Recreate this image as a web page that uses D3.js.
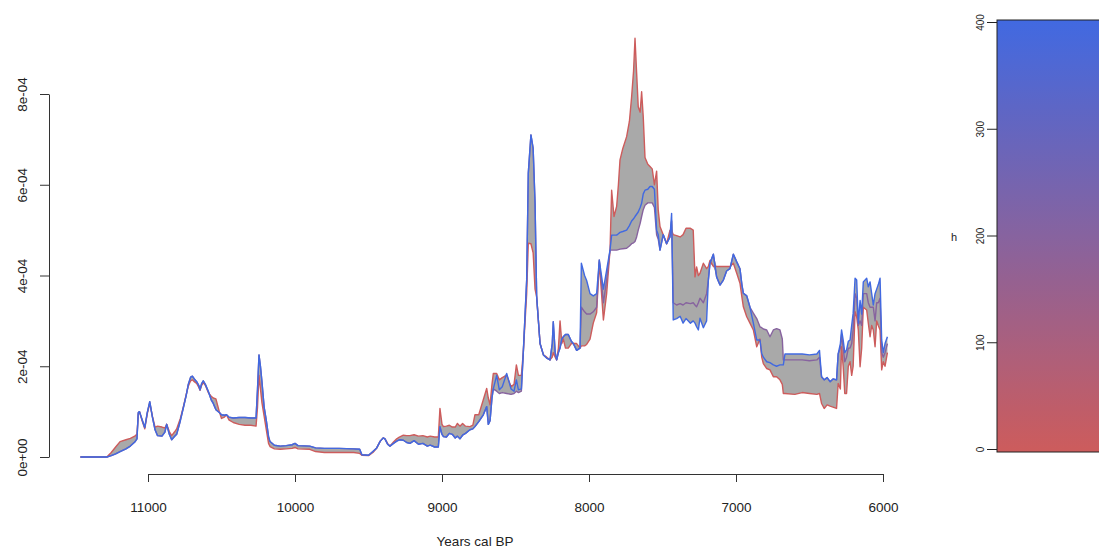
<!DOCTYPE html>
<html>
<head>
<meta charset="utf-8">
<script src="https://cdn.jsdelivr.net/npm/d3@7"></script>
<style>
  html, body { margin: 0; padding: 0; background: #fff; }
  svg { display: block; font-family: "Liberation Sans", Arial, sans-serif; }
</style>
</head>
<body>
<svg id="chart" width="1099" height="548"></svg>
<script>
// Summed probability density for three values of the smoothing parameter h
// (0, 200, 400). Values are in units of 1e-4 and converted below.
const years = [
  11460, 11280, 11250, 11220, 11190, 11150, 11120, 11090, 11075, 11066,
  11058, 11040, 11022, 11005, 10988, 10970, 10952, 10935, 10905, 10885,
  10873, 10855, 10839, 10820, 10805, 10780, 10760, 10740, 10726, 10710,
  10698, 10685, 10669, 10655, 10646, 10635, 10624, 10610, 10590, 10570,
  10556, 10538, 10515, 10500, 10480, 10466, 10450, 10420, 10380, 10340,
  10300, 10265, 10255, 10245, 10235, 10225, 10210, 10195, 10180, 10170,
  10140, 10100, 10060, 10020, 10000, 9980, 9900, 9860, 9800, 9700,
  9600, 9560, 9545, 9500, 9470, 9444, 9420, 9400, 9388, 9370,
  9354, 9330, 9308, 9290, 9263, 9240, 9218, 9190, 9160, 9130,
  9100, 9080, 9050, 9025, 9014, 9000, 8990, 8970, 8950, 8930,
  8910, 8895, 8878, 8860, 8840, 8810, 8790, 8776, 8750, 8719,
  8696, 8685, 8673, 8660, 8651, 8628, 8610, 8590, 8560, 8530,
  8510, 8494, 8480, 8460, 8447, 8424, 8413, 8395, 8380, 8367,
  8356, 8333, 8310, 8288, 8265, 8250, 8243, 8230, 8220, 8208,
  8197, 8185, 8175, 8160, 8141, 8120, 8107, 8084, 8061, 8052,
  8030, 8016, 7993, 7971, 7948, 7930, 7902, 7880, 7857, 7846,
  7830, 7812, 7800, 7789, 7770, 7744, 7725, 7710, 7697, 7687,
  7676, 7665, 7652, 7642, 7631, 7619, 7600, 7585, 7570, 7555,
  7540, 7529, 7517, 7495, 7472, 7449, 7438, 7427, 7404, 7380,
  7360, 7340, 7310, 7291, 7279, 7268, 7256, 7245, 7222, 7200,
  7188, 7177, 7154, 7132, 7109, 7086, 7064, 7041, 7018, 6995,
  6973, 6960, 6950, 6927, 6905, 6882, 6859, 6837, 6825, 6814,
  6791, 6769, 6746, 6724, 6701, 6685, 6678, 6667, 6600, 6550,
  6500, 6450, 6432, 6418, 6400, 6380, 6360, 6340, 6316, 6305,
  6290, 6282, 6271, 6260, 6248, 6236, 6224, 6213, 6203, 6190,
  6179, 6168, 6156, 6145, 6134, 6111, 6100, 6088, 6077, 6066,
  6054, 6043, 6032, 6020, 6009, 5998, 5986, 5970
];

// h = 0
const densH0 = [
  0, 0, 0.10, 0.22, 0.34, 0.38, 0.41, 0.46, 0.50, 0.95,
  1.00, 0.80, 0.62, 0.95, 1.18, 0.90, 0.66, 0.68, 0.66, 0.64,
  0.72, 0.56, 0.47, 0.55, 0.62, 0.85, 1.10, 1.38, 1.56, 1.68,
  1.70, 1.66, 1.62, 1.54, 1.47, 1.58, 1.64, 1.58, 1.42, 1.34,
  1.30, 1.28, 1.00, 0.85, 0.88, 0.93, 0.82, 0.76, 0.72, 0.70,
  0.70, 0.68, 1.10, 1.80, 1.50, 1.20, 0.90, 0.60, 0.30, 0.23,
  0.18, 0.17, 0.18, 0.19, 0.21, 0.18, 0.17, 0.12, 0.10, 0.10,
  0.10, 0.08, 0.04, 0.03, 0.10, 0.20, 0.35, 0.42, 0.40, 0.30,
  0.24, 0.33, 0.40, 0.44, 0.48, 0.47, 0.47, 0.49, 0.46, 0.47,
  0.44, 0.46, 0.44, 0.44, 1.07, 0.72, 0.67, 0.68, 0.70, 0.66,
  0.66, 0.74, 0.68, 0.74, 0.68, 0.67, 0.70, 0.93, 0.93, 1.26,
  1.51, 1.30, 1.15, 1.60, 1.84, 1.84, 1.70, 1.75, 1.80, 1.55,
  1.60, 2.03, 1.80, 1.80, 2.30, 3.60, 4.71, 4.70, 4.50, 3.70,
  3.53, 2.50, 2.25, 2.20, 2.14, 2.20, 2.30, 2.20, 2.14, 2.40,
  3.00, 2.50, 2.60, 2.40, 2.40, 2.50, 2.50, 2.50, 2.40, 2.45,
  2.45, 2.48, 2.60, 2.95, 3.18, 4.30, 3.02, 3.60, 4.56, 5.88,
  5.30, 5.52, 6.00, 6.55, 6.80, 7.06, 7.40, 7.94, 8.50, 9.23,
  8.46, 7.72, 7.60, 8.05, 7.50, 6.60, 6.45, 6.40, 6.35, 6.00,
  6.30, 5.44, 5.08, 4.90, 4.70, 5.00, 5.00, 4.90, 4.88, 4.85,
  4.90, 5.04, 5.04, 5.00, 3.97, 4.19, 4.00, 4.05, 4.27, 4.15,
  4.20, 4.33, 4.20, 4.20, 4.20, 4.20, 4.20, 4.20, 4.27, 4.05,
  3.83, 3.53, 3.31, 3.09, 2.95, 2.80, 2.43, 2.60, 2.20, 2.06,
  1.95, 1.92, 1.77, 1.77, 1.70, 1.60, 1.40, 1.40, 1.38, 1.42,
  1.40, 1.38, 1.40, 1.18, 1.07, 1.15, 1.12, 1.10, 1.07, 1.62,
  1.50, 2.43, 2.00, 1.40, 1.40, 2.00, 2.10, 1.80, 2.00, 3.20,
  3.09, 2.80, 1.99, 2.40, 3.30, 3.24, 2.95, 2.65, 2.90, 2.80,
  2.43, 3.00, 2.90, 2.80, 1.92, 2.10, 2.00, 2.30
];

// h = 200
const densH200 = [
  0, 0, 0.03, 0.07, 0.12, 0.18, 0.24, 0.33, 0.40, 0.98,
  1.00, 0.82, 0.65, 0.98, 1.22, 0.88, 0.60, 0.47, 0.46, 0.55,
  0.72, 0.50, 0.38, 0.45, 0.50, 0.80, 1.08, 1.36, 1.60, 1.76,
  1.78, 1.72, 1.66, 1.58, 1.48, 1.62, 1.68, 1.60, 1.45, 1.26,
  1.18, 1.04, 0.98, 0.93, 0.92, 0.93, 0.88, 0.86, 0.87, 0.87,
  0.86, 0.86, 1.50, 2.25, 2.00, 1.66, 1.10, 0.80, 0.45, 0.34,
  0.26, 0.24, 0.25, 0.27, 0.30, 0.25, 0.24, 0.20, 0.19, 0.19,
  0.18, 0.17, 0.05, 0.04, 0.12, 0.20, 0.35, 0.42, 0.40, 0.28,
  0.24, 0.30, 0.35, 0.38, 0.37, 0.32, 0.30, 0.36, 0.28, 0.30,
  0.24, 0.26, 0.22, 0.22, 0.67, 0.50, 0.45, 0.44, 0.52, 0.50,
  0.42, 0.46, 0.40, 0.48, 0.52, 0.60, 0.62, 0.67, 0.78, 0.93,
  1.11, 0.72, 0.80, 1.30, 1.50, 1.45, 1.40, 1.42, 1.40, 1.38,
  1.40, 1.45, 1.42, 1.45, 2.30, 3.90, 6.25, 7.10, 6.80, 5.60,
  3.53, 2.50, 2.25, 2.18, 2.14, 2.50, 2.98, 2.30, 2.14, 2.30,
  2.40, 2.60, 2.65, 2.70, 2.70, 2.55, 2.50, 2.35, 2.40, 3.30,
  3.20, 3.15, 3.15, 3.20, 3.30, 4.34, 3.40, 3.90, 4.56, 4.56,
  4.56, 4.56, 4.57, 4.58, 4.59, 4.60, 4.65, 4.70, 4.72, 4.75,
  4.85, 5.00, 5.15, 5.30, 5.45, 5.55, 5.60, 5.60, 5.60, 5.50,
  4.90, 4.80, 4.56, 4.90, 4.70, 4.85, 5.20, 3.40, 3.35, 3.38,
  3.35, 3.40, 3.38, 3.40, 3.35, 3.31, 3.40, 3.50, 3.40, 3.60,
  3.90, 4.27, 4.47, 3.97, 3.79, 3.90, 4.10, 4.15, 4.47, 4.30,
  4.15, 3.80, 3.61, 3.55, 3.30, 3.17, 3.05, 2.87, 2.85, 2.82,
  2.80, 2.65, 2.80, 2.83, 2.80, 2.60, 2.14, 2.14, 2.14, 2.14,
  2.12, 2.14, 2.20, 1.77, 1.70, 1.75, 1.66, 1.72, 1.70, 2.27,
  2.40, 2.70, 2.40, 2.10, 2.20, 2.40, 2.40, 2.50, 2.80, 3.60,
  3.50, 2.90, 3.00, 2.90, 3.60, 3.60, 3.40, 3.30, 3.30, 3.30,
  3.00, 3.40, 3.40, 3.50, 2.30, 2.20, 2.30, 2.50
];

// h = 400
const densH400 = [
  0, 0, 0.03, 0.07, 0.12, 0.18, 0.24, 0.33, 0.40, 0.98,
  1.00, 0.82, 0.65, 0.98, 1.22, 0.88, 0.60, 0.47, 0.46, 0.55,
  0.72, 0.50, 0.38, 0.45, 0.50, 0.80, 1.08, 1.36, 1.60, 1.76,
  1.78, 1.72, 1.66, 1.58, 1.48, 1.62, 1.68, 1.60, 1.45, 1.26,
  1.18, 1.04, 0.98, 0.93, 0.92, 0.93, 0.88, 0.86, 0.87, 0.87,
  0.86, 0.86, 1.50, 2.25, 2.00, 1.66, 1.10, 0.80, 0.45, 0.34,
  0.26, 0.24, 0.25, 0.27, 0.30, 0.25, 0.24, 0.20, 0.19, 0.19,
  0.18, 0.17, 0.05, 0.04, 0.12, 0.20, 0.35, 0.42, 0.40, 0.28,
  0.24, 0.30, 0.35, 0.38, 0.37, 0.32, 0.30, 0.36, 0.28, 0.30,
  0.24, 0.26, 0.22, 0.22, 0.67, 0.50, 0.45, 0.44, 0.52, 0.50,
  0.42, 0.46, 0.40, 0.48, 0.52, 0.60, 0.62, 0.67, 0.78, 0.93,
  1.11, 0.72, 0.80, 1.30, 1.50, 1.80, 1.48, 1.55, 1.84, 1.50,
  1.45, 1.70, 1.48, 1.50, 2.30, 3.90, 6.25, 7.10, 6.80, 5.60,
  3.53, 2.50, 2.25, 2.18, 2.14, 2.50, 2.98, 2.30, 2.14, 2.30,
  2.40, 2.60, 2.65, 2.70, 2.70, 2.55, 2.50, 2.35, 2.40, 4.27,
  4.00, 3.89, 3.60, 3.55, 3.60, 4.34, 3.70, 4.12, 4.56, 4.89,
  4.89, 4.89, 4.92, 4.95, 4.97, 5.00, 5.10, 5.20, 5.25, 5.30,
  5.35, 5.40, 5.50, 5.59, 5.80, 5.88, 5.90, 5.96, 5.96, 5.90,
  5.00, 4.90, 4.56, 4.90, 4.70, 4.85, 5.37, 3.02, 3.05, 3.10,
  2.95, 3.05, 2.95, 3.00, 2.95, 2.87, 2.80, 3.06, 2.85, 3.00,
  3.90, 4.27, 4.47, 3.97, 3.79, 3.90, 4.10, 4.15, 4.47, 4.30,
  4.15, 3.80, 3.61, 3.55, 3.30, 2.95, 2.58, 2.58, 2.28, 2.20,
  2.10, 2.08, 2.03, 2.00, 2.03, 2.03, 2.03, 2.27, 2.27, 2.27,
  2.25, 2.27, 2.35, 1.77, 1.70, 1.75, 1.66, 1.72, 1.70, 2.27,
  2.50, 2.80, 2.58, 2.30, 2.36, 2.55, 2.58, 2.90, 3.17, 3.94,
  3.90, 2.95, 3.45, 3.15, 3.86, 3.94, 3.75, 3.86, 3.60, 3.35,
  3.60, 3.70, 3.80, 3.94, 2.58, 2.30, 2.50, 2.65
];

const hValues = [0, 200, 400];
const xTicks = [11000, 10000, 9000, 8000, 7000, 6000];
const yTicks = [0, 2e-4, 4e-4, 6e-4, 8e-4];
const yTickLabels = ["0e+00", "2e-04", "4e-04", "6e-04", "8e-04"];
const hTicks = [0, 100, 200, 300, 400];
const xTitle = "Years cal BP";
const legendTitle = "h";

const lowColor = "#CD5C5C";
const highColor = "#4169E1";
const hColor = d3.scaleLinear().domain([0, 400]).range([lowColor, highColor]).interpolate(d3.interpolateRgb);

const seriesRaw = [densH0, densH200, densH400];
const series = seriesRaw.map((vals, k) => ({
  h: hValues[k],
  points: years.map((yr, i) => ({ year: yr, value: vals[i] * 1e-4 }))
}));

const svg = d3.select("#chart");

const x = d3.scaleLinear().domain([11000, 6000]).range([148, 883]);
const y = d3.scaleLinear().domain([0, 8e-4]).range([457, 94]);

// Grey envelope spanning all h curves
const envelope = years.map((yr, i) => {
  const vs = seriesRaw.map(s => s[i] * 1e-4);
  return { year: yr, lo: d3.min(vs), hi: d3.max(vs) };
});

svg.append("path")
  .datum(envelope)
  .attr("fill", "#A9A9A9")
  .attr("stroke", "none")
  .attr("d", d3.area()
    .x(d => x(d.year))
    .y0(d => y(d.lo))
    .y1(d => y(d.hi)));

const line = d3.line()
  .x(d => x(d.year))
  .y(d => y(d.value));

svg.append("g")
  .selectAll("path")
  .data(series)
  .join("path")
  .attr("fill", "none")
  .attr("stroke", d => hColor(d.h))
  .attr("stroke-width", 1.4)
  .attr("stroke-linejoin", "round")
  .attr("d", d => line(d.points));

// Axes
const axisColor = "#333";
const labelFont = "13.5px";

const yAxis = svg.append("g")
  .attr("transform", "translate(49,0)")
  .call(d3.axisLeft(y)
    .tickValues(yTicks)
    .tickFormat((d, i) => yTickLabels[i])
    .tickSize(9)
    .tickSizeOuter(0));
yAxis.select(".domain").attr("stroke", axisColor);
yAxis.selectAll(".tick line").attr("stroke", axisColor);
yAxis.selectAll(".tick text")
  .attr("transform", "rotate(-90)")
  .attr("x", 0)
  .attr("y", -22)
  .attr("dy", 0)
  .attr("text-anchor", "middle")
  .attr("fill", "#222")
  .style("font-size", labelFont)
  .style("font-family", "'Liberation Sans', Arial, sans-serif");

const xAxis = svg.append("g")
  .attr("transform", "translate(0,474)")
  .call(d3.axisBottom(x)
    .tickValues(xTicks)
    .tickFormat(d3.format("d"))
    .tickSize(8)
    .tickSizeOuter(0));
xAxis.select(".domain").attr("stroke", axisColor);
xAxis.selectAll(".tick line").attr("stroke", axisColor);
xAxis.selectAll(".tick text")
  .attr("y", 38)
  .attr("dy", 0)
  .attr("fill", "#222")
  .style("font-size", labelFont)
  .style("font-family", "'Liberation Sans', Arial, sans-serif");

svg.append("text")
  .attr("x", 475)
  .attr("y", 546)
  .attr("text-anchor", "middle")
  .attr("fill", "#222")
  .style("font-size", labelFont)
  .text(xTitle);

// Colour bar for h
const hScale = d3.scaleLinear().domain([0, 400]).range([449, 22]);

const defs = svg.append("defs");
const grad = defs.append("linearGradient")
  .attr("id", "hGradient")
  .attr("x1", 0).attr("y1", 1)
  .attr("x2", 0).attr("y2", 0);
d3.range(0, 1.0001, 0.1).forEach(t => {
  grad.append("stop")
    .attr("offset", t)
    .attr("stop-color", hColor(t * 400));
});

svg.append("rect")
  .attr("x", 997)
  .attr("y", 20)
  .attr("width", 110)
  .attr("height", 432)
  .attr("fill", "url(#hGradient)")
  .attr("stroke", "#222")
  .attr("stroke-width", 1);

const hAxis = svg.append("g")
  .attr("transform", "translate(997,0)")
  .call(d3.axisLeft(hScale)
    .tickValues(hTicks)
    .tickFormat(d3.format("d"))
    .tickSize(10)
    .tickSizeOuter(0));
hAxis.select(".domain").remove();
hAxis.selectAll(".tick line").attr("stroke", "#222");
hAxis.selectAll(".tick text")
  .attr("transform", "rotate(-90)")
  .attr("x", 0)
  .attr("y", -13)
  .attr("dy", 0)
  .attr("text-anchor", "middle")
  .attr("fill", "#222")
  .style("font-size", "10px")
  .style("font-family", "'Liberation Sans', Arial, sans-serif");

svg.append("text")
  .attr("x", 954)
  .attr("y", 241)
  .attr("text-anchor", "middle")
  .attr("fill", "#222")
  .style("font-size", "11px")
  .text(legendTitle);
</script>
</body>
</html>
